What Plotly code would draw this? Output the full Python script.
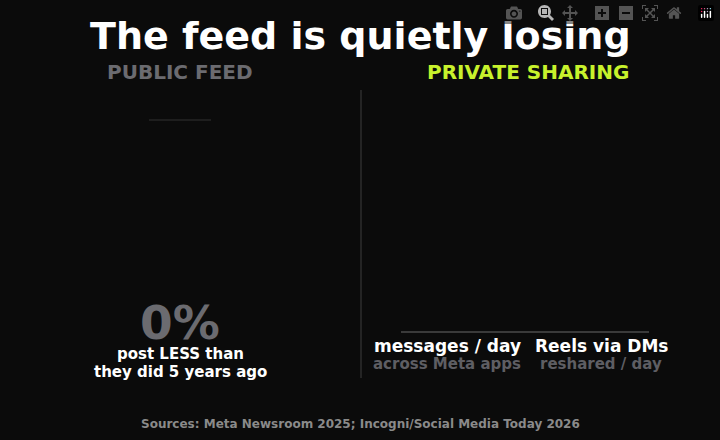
import plotly.graph_objects as go

W, H = 720, 440
title = "The feed is quietly losing"
left_header = "PUBLIC FEED"
right_header = "PRIVATE SHARING"
public_pct = [0]
public_label = ["post LESS than", "they did 5 years ago"]
private_labels = ["messages / day", "Reels via DMs"]
private_sub = ["across Meta apps", "reshared / day"]
source = "Sources: Meta Newsroom 2025; Incogni/Social Media Today 2026"

F = "DejaVu Sans"
def px(x): return x / W
def py(y): return 1 - y / H

fig = go.Figure()
ann = []
def t(x, y, s, size, color, bold=True):
    ann.append(dict(x=px(x), y=py(y), xref="paper", yref="paper", text=f"<b>{s}</b>" if bold else s,
                    showarrow=False, font=dict(family=F, size=size, color=color),
                    xanchor="center", yanchor="middle"))

t(360, 36, title, 38, "#ffffff")
t(180, 72, left_header, 20, "#6b6b70")
t(528, 72, right_header, 20, "#c8f22c")
t(180, 322, f"{public_pct[0]}%", 47, "#6b6b70")
t(180, 354, public_label[0], 15, "#ffffff")
t(180, 372, public_label[1], 15, "#ffffff")
for cx, a, b in zip([447, 601], private_labels, private_sub):
    t(cx, 346, a, 17, "#ffffff")
    t(cx, 364, b, 15, "#5e5e63")
t(360, 424, source, 12, "#8a8a8a")

shapes = [
    dict(type="line", xref="paper", yref="paper", x0=px(149), x1=px(211), y0=py(120), y1=py(120), line=dict(color="#333333", width=1)),
    dict(type="line", xref="paper", yref="paper", x0=px(361), x1=px(361), y0=py(90), y1=py(378), line=dict(color="#2e2e2e", width=1.5)),
    dict(type="line", xref="paper", yref="paper", x0=px(401), x1=px(649), y0=py(332), y1=py(332), line=dict(color="#3a3a3a", width=2)),
]
fig.update_layout(width=W, height=H, margin=dict(l=0, r=0, t=0, b=0),
                  paper_bgcolor="#0b0b0b", plot_bgcolor="#0b0b0b",
                  xaxis=dict(visible=False, range=[0, 1]), yaxis=dict(visible=False, range=[0, 1]),
                  annotations=ann, shapes=shapes, showlegend=False)
fig.write_html("out.html", post_script="document.body.style.margin='0';document.body.style.overflow='hidden';document.body.style.background='#0b0b0b';")
